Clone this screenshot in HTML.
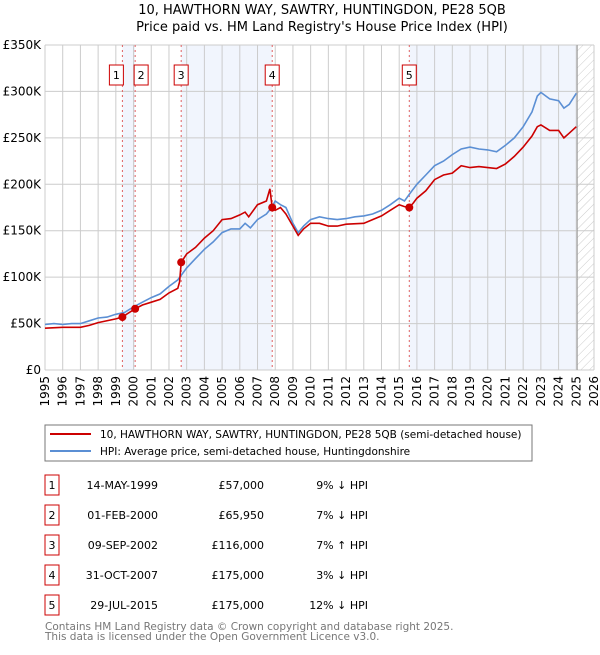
<!DOCTYPE html>
<html><head><meta charset="utf-8"><style>
body{margin:0;background:#fff;width:600px;height:650px;overflow:hidden}
svg text{font-family:"DejaVu Sans","Liberation Sans",sans-serif}
</style></head><body>
<svg id="c" width="600" height="650" xmlns="http://www.w3.org/2000/svg">
<defs><pattern id="hatch" width="6" height="6" patternUnits="userSpaceOnUse" patternTransform="rotate(45)"><line x1="0" y1="0" x2="0" y2="6" stroke="#ccc" stroke-width="1"/></pattern></defs>
<text x="322" y="14" text-anchor="middle" font-size="13">10, HAWTHORN WAY, SAWTRY, HUNTINGDON, PE28 5QB</text>
<text x="322" y="31" text-anchor="middle" font-size="13">Price paid vs. HM Land Registry's House Price Index (HPI)</text>
<g id="plot"></g>
<rect x="45" y="425" width="487" height="36" fill="#fff" stroke="#777"/>
<line x1="50" y1="434" x2="91" y2="434" stroke="#cc0000" stroke-width="2"/>
<text x="100" y="438" font-size="10.5">10, HAWTHORN WAY, SAWTRY, HUNTINGDON, PE28 5QB (semi-detached house)</text>
<line x1="50" y1="451" x2="91" y2="451" stroke="#5b8fd4" stroke-width="2"/>
<text x="100" y="455" font-size="10.5">HPI: Average price, semi-detached house, Huntingdonshire</text>
<g id="table"></g>
<text x="45" y="630" font-size="10.5" fill="#777">Contains HM Land Registry data © Crown copyright and database right 2025.</text>
<text x="45" y="640" font-size="10.5" fill="#777">This data is licensed under the Open Government Licence v3.0.</text>
</svg>
<script>
const hpiT=[1995,1995.5,1996,1996.5,1997,1997.5,1998,1998.5,1999,1999.5,2000,2000.5,2001,2001.5,2002,2002.5,2003,2003.5,2004,2004.5,2005,2005.5,2006,2006.3,2006.6,2007,2007.5,2007.8,2008,2008.3,2008.6,2009,2009.3,2009.6,2010,2010.5,2011,2011.5,2012,2012.5,2013,2013.5,2014,2014.5,2015,2015.3,2015.6,2016,2016.5,2017,2017.5,2018,2018.5,2019,2019.5,2020,2020.5,2021,2021.5,2022,2022.5,2022.8,2023,2023.5,2024,2024.3,2024.6,2025];
const hpiV=[49,50,49,50,50,53,56,57,60,62,68,73,78,82,90,97,110,120,130,138,148,152,152,158,153,162,168,175,182,178,175,158,148,155,162,165,163,162,163,165,166,168,172,178,185,182,190,200,210,220,225,232,238,240,238,237,235,242,250,262,278,295,299,292,290,282,286,298];
const priceT=[1995,1996,1997,1997.5,1998,1999,1999.37,1999.6,2000.09,2000.5,2001,2001.5,2002,2002.5,2002.6,2002.69,2003,2003.5,2004,2004.5,2005,2005.5,2006,2006.3,2006.5,2007,2007.5,2007.7,2007.83,2008,2008.3,2008.6,2009,2009.3,2009.6,2010,2010.5,2011,2011.5,2012,2013,2013.5,2014,2014.5,2015,2015.3,2015.57,2015.8,2016,2016.5,2017,2017.5,2018,2018.5,2019,2019.5,2020,2020.5,2021,2021.5,2022,2022.5,2022.8,2023,2023.5,2024,2024.3,2024.6,2025];
const priceV=[45,46,46,48,51,55,57,60,65.95,70,73,76,83,88,95,116,125,132,142,150,162,163,167,170,165,178,182,195,175,172,175,168,155,145,152,158,158,155,155,157,158,162,166,172,178,176,175,180,185,193,205,210,212,220,218,219,218,217,222,230,240,252,262,264,258,258,250,255,262];
const saleT=[1999.37,2000.09,2002.69,2007.83,2015.57];
const saleV=[57,65.95,116,175,175];
const saleLabels=["1","2","3","4","5"];
const saleDates=["14-MAY-1999","01-FEB-2000","09-SEP-2002","31-OCT-2007","29-JUL-2015"];
const salePrices=["£57,000","£65,950","£116,000","£175,000","£175,000"];
const saleHpi=["9% ↓ HPI","7% ↓ HPI","7% ↑ HPI","3% ↓ HPI","12% ↓ HPI"];
const yTicks=[0,50,100,150,200,250,300,350];
const yTickLabels=["£0","£50K","£100K","£150K","£200K","£250K","£300K","£350K"];
const xYears=[1995,1996,1997,1998,1999,2000,2001,2002,2003,2004,2005,2006,2007,2008,2009,2010,2011,2012,2013,2014,2015,2016,2017,2018,2019,2020,2021,2022,2023,2024,2025,2026];
const dataEnd=2025.05;

const X0=45,X1=594,Y0=370,Y1=45;
const x=t=>X0+(t-1995)/(2026-1995)*(X1-X0);
const y=v=>Y0-v/350*(Y0-Y1);
const NS="http://www.w3.org/2000/svg";
const plot=document.getElementById('plot');
function mk(tag,at,parent){const e=document.createElementNS(NS,tag);for(const k in at)e.setAttribute(k,at[k]);(parent||plot).appendChild(e);return e;}

let e=mk('rect',{x:X0,y:Y1,width:X1-X0,height:Y0-Y1,fill:'#fff'});


[[0,1],[2,3],[4,null]].forEach(([a,b],i)=>{
  const s=x(saleT[a]),en=b===null?x(dataEnd):x(saleT[b]);
  const r=mk('rect',{x:s,y:Y1,width:en-s,height:Y0-Y1,fill:'#eef2fc',opacity:0.8});
  
  
});
e=mk('rect',{x:x(dataEnd),y:Y1,width:X1-x(dataEnd),height:Y0-Y1,fill:'url(#hatch)'});


xYears.forEach(yr=>{
  const l=mk('line',{x1:x(yr),x2:x(yr),y1:Y1,y2:Y0,stroke:'#ccc','stroke-width':1});
  
  
  const t=mk('text',{x:0,y:0,'font-size':12,'text-anchor':'end',transform:`translate(${x(yr)+4},${Y0+6}) rotate(-90)`});
  t.textContent=yr;
  
  
});
yTicks.forEach((v,i)=>{
  const l=mk('line',{x1:X0,x2:X1,y1:y(v),y2:y(v),stroke:'#ccc','stroke-width':1});
  
  
  const t=mk('text',{x:X0-4,y:y(v)+4,'font-size':12,'text-anchor':'end'});
  t.textContent=yTickLabels[i];
  
  
});
e=mk('line',{x1:x(dataEnd),x2:x(dataEnd),y1:Y1,y2:Y0,stroke:'#999','stroke-width':1});


saleT.forEach((t,i)=>{
  const l=mk('line',{x1:x(t),x2:x(t),y1:Y1,y2:Y0,stroke:'#e06060','stroke-width':1,'stroke-dasharray':'2,3'});
  
  
  let off=0; if(i===0) off=-6; if(i===1) off=6;
  const bx=x(t)+off-7;
  const r=mk('rect',{x:bx,y:65,width:14,height:20,fill:'#fff',stroke:'#cc0000'});
  
  
  const tx=mk('text',{x:bx+7,y:79,'font-size':11,'text-anchor':'middle'});
  tx.textContent=saleLabels[i];
  
  
});
e=mk('path',{d:hpiT.map((t,i)=>(i?'L':'M')+x(t).toFixed(1)+','+y(hpiV[i]).toFixed(1)).join(''),fill:'none',stroke:'#5b8fd4','stroke-width':1.6});


e=mk('path',{d:priceT.map((t,i)=>(i?'L':'M')+x(t).toFixed(1)+','+y(priceV[i]).toFixed(1)).join(''),fill:'none',stroke:'#cc0000','stroke-width':1.6});


saleT.forEach((t,i)=>{
  const c=mk('circle',{cx:x(t),cy:y(saleV[i]),r:4,fill:'#cc0000'});
  
  
});
const tb=document.getElementById('table');
saleLabels.forEach((lab,i)=>{
  const cy=485+i*30;
  const r=mk('rect',{x:45,y:cy-10,width:14,height:20,fill:'#fff',stroke:'#cc0000'},tb);
  
  
  const cells=[[52,'middle',lab,'table-row-number'],[158,'end',saleDates[i],'table-date'],[264,'end',salePrices[i],'table-price'],[368,'end',saleHpi[i],'table-hpi-diff']];
  cells.forEach(([cx,anc,txt,nm])=>{
    const t=mk('text',{x:cx,y:cy+4,'font-size':11,'text-anchor':anc},tb);
    t.textContent=txt;
    
    
  });
});
</script>
</body></html>
